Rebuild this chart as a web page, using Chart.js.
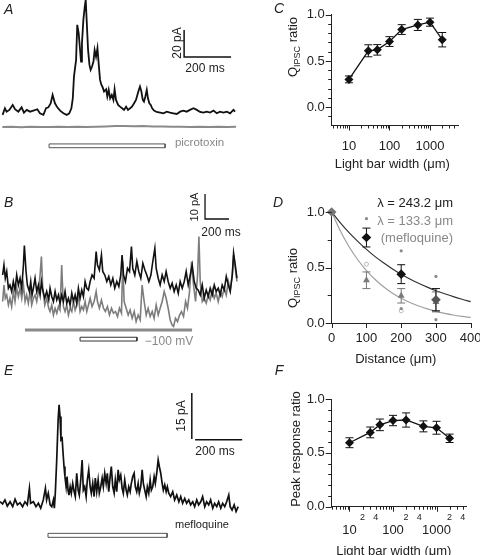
<!DOCTYPE html>
<html>
<head>
<meta charset="utf-8">
<script src="https://cdn.jsdelivr.net/npm/chart.js@4.4.1/dist/chart.umd.min.js"></script>
<style>
html, body { margin: 0; padding: 0; background: #fff; overflow: hidden; }
#fig { position: relative; width: 480px; height: 555px; overflow: hidden;
       font-family: 'Liberation Sans', Arial, sans-serif; color: #222; }
#fig canvas { position: absolute; left: 0; top: 0; }
.t { position: absolute; white-space: nowrap; font-size: 12px; line-height: 1; transform: translate(-50%, -50%); }
.r { transform: translate(-50%, -50%) rotate(-90deg); }
.lab { position: absolute; font-size: 14px; font-style: italic; line-height: 1; transform: translate(-50%, -50%); }
.ax { font-size: 13px; }
sub { font-size: 9px; vertical-align: -3px; line-height: 0; }
.leg { position: absolute; right: 27px; font-size: 13px; line-height: 1; text-align: right; white-space: nowrap; transform: translateY(-50%); }
</style>
</head>
<body>
<div id="fig">
  <canvas id="cA" width="480" height="555"></canvas>
  <canvas id="cB" width="480" height="555"></canvas>
  <canvas id="cE" width="480" height="555"></canvas>
  <canvas id="cC" width="480" height="555"></canvas>
  <canvas id="cD" width="500" height="555"></canvas>
  <canvas id="cF" width="480" height="555"></canvas>

  <div class="lab" style="left:8.7px;top:9px">A</div>
  <div class="lab" style="left:8.7px;top:201.7px">B</div>
  <div class="lab" style="left:8.7px;top:369.5px">E</div>
  <div class="lab" style="left:279px;top:7.5px">C</div>
  <div class="lab" style="left:278px;top:201.7px">D</div>
  <div class="lab" style="left:279px;top:370px">F</div>

  <div class="t r" style="left:176.7px;top:43px">20 pA</div>
  <div class="t" style="left:205px;top:67.5px">200 ms</div>
  <div class="t" style="left:199.5px;top:142.8px;color:#888;font-size:11.5px">picrotoxin</div>

  <div class="t r" style="left:193.7px;top:206.7px;font-size:11px">10 pA</div>
  <div class="t" style="left:221px;top:232px">200 ms</div>
  <div class="t" style="left:169px;top:340.5px;color:#888">−100 mV</div>

  <div class="t r" style="left:180.5px;top:416px">15 pA</div>
  <div class="t" style="left:215px;top:450.5px">200 ms</div>
  <div class="t" style="left:202px;top:523.5px;font-size:11px">mefloquine</div>

  <div class="t r ax" style="left:292px;top:47px">Q<sub>IPSC</sub> ratio</div>
  <div class="t ax" style="left:392.3px;top:163px">Light bar width (μm)</div>

  <div class="t r ax" style="left:292px;top:277.5px">Q<sub>IPSC</sub> ratio</div>
  <div class="t ax" style="left:395.8px;top:358px">Distance (μm)</div>
  <div class="leg" style="top:202px">λ = 243.2 μm</div>
  <div class="leg" style="top:220px;color:#888">λ = 133.3 μm</div>
  <div class="leg" style="top:237px;color:#888">(mefloquine)</div>

  <div class="t r ax" style="left:295px;top:449px">Peak response ratio</div>
  <div class="t ax" style="left:393.8px;top:550px">Light bar width (μm)</div>
</div>

<script>
// ---- panel A : light-evoked current, control and picrotoxin (ms, pA)
const traceATime = [11,21,28,40,54,64,78,92,102,114,128,142,159,170,185,196,206,216,224,234,244,256,270,284,295,304,310,315,324,329,335,341,345,349,355,361,365,369,375,381,386,392,398,403,409,415,420,426,432,437,443,452,457,463,469,476,483,488,494,503,511,520,528,537,545,554,562,571,579,585,591,596,602,608,613,619,625,630,636,642,648,656,667,682,696,710,724,738,753,767,781,795,809,824,838,852,866,880,895,909,923,937,951,966,980,994,1001];
const traceACurrent = [-1.2,3.7,1.2,2.5,6.2,3.0,1.2,4.4,0.5,2.5,1.2,2.0,3.0,0,-1.2,3.7,4.4,7.4,13.6,7.4,4.4,2.0,0,-1.2,0,3.7,11.1,27.2,39.5,65.5,59.3,46.9,38.3,51.9,69.2,79.0,84.0,69.2,46.9,35.8,32.1,34.6,38.3,46.9,42.0,48.2,37.1,24.7,21.0,19.3,16.1,17.8,12.4,17.3,11.1,13.6,9.9,17.8,9.9,6.2,4.9,3.7,2.5,4.9,2.5,3.7,4.9,7.4,9.9,13.6,17.3,19.8,16.1,9.9,8.6,12.4,17.3,11.1,7.4,6.2,3.7,2.0,1.0,0.5,0,1.2,0.5,0,-0.5,1.2,2.0,1.2,2.5,3.7,2.5,1.0,0.5,1.2,0.5,2.0,0,1.2,0.5,1.2,0,2.5,1.2];
const picroTime = [10,50,90,130,170,210,250,290,330,370,410,450,490,530,570,610,650,690,730,770,810,850,890,930,970,1005];
const picroCurrent = [-10.2,-10.0,-10.3,-9.9,-10.1,-10.2,-10.0,-10.1,-9.9,-10.2,-10.0,-9.8,-9.5,-9.4,-9.6,-9.5,-9.7,-9.8,-10.0,-9.9,-10.1,-10.0,-10.2,-9.9,-10.1,-10.0];
const stimA = [209, 703];          // ms
const scaleA = [784, 984, 41.7, 61.7]; // ms from, ms to, pA from, pA to

// ---- panel B : control (black) and -100 mV (gray)
const traceBTime = [22,33,44,56,70,83,97,111,125,139,153,167,181,195,203,217,228,245,256,267,278,292,306,320,334,345,356,373,389,406,417,431,445,459,473,487,500,514,528,542,556,570,584,598,612,626,639,653,667,681,695,709,723,737,751,767,784,801,812,828,845,856,873,890,906,923,940,956,973,990,1006,1017,1029,1045,1062,1079,1095,1106,1123,1140,1156,1173,1190,1207,1223,1240,1257,1273,1290,1301,1318,1334,1351,1368,1384,1401,1418,1434,1451,1468,1485,1501,1518,1535,1551,1568,1585,1601,1618,1635,1651,1668,1685,1701,1718,1735,1751,1768,1785,1801,1818,1835,1851,1868,1885,1902,1918,1935,1946,1960,1974];
const traceBCurrent = [13.3,17.3,12.0,14.7,8.0,9.3,6.7,10.7,7.3,13.3,9.3,12.0,8.0,17.3,25.1,14.7,9.3,6.7,10.7,5.3,8.0,12.0,6.7,9.3,5.3,10.7,7.3,4.0,6.7,3.3,8.0,4.7,2.7,6.7,3.3,5.3,2.0,5.3,2.7,6.7,2.0,4.0,1.3,6.0,2.7,5.3,2.0,8.0,4.0,7.3,4.7,10.7,8.0,7.3,10.7,13.3,12.0,22.7,17.3,15.3,21.3,14.7,13.3,10.7,12.7,9.3,12.0,8.0,10.7,8.7,13.3,21.3,13.3,10.7,16.0,14.7,24.7,16.0,13.3,18.7,14.7,12.0,18.0,15.3,13.3,10.7,13.3,18.7,24.0,16.0,12.0,9.3,13.3,10.7,14.7,10.7,8.0,10.0,6.7,9.3,6.0,10.7,8.0,10.7,14.7,9.3,13.3,17.3,10.7,8.0,7.3,5.3,9.3,4.0,7.3,4.7,8.0,5.3,9.3,6.7,8.0,5.3,9.3,7.3,12.7,9.3,6.7,13.3,22.0,17.3,12.0];
const hypBTime = [22,33,44,56,70,83,97,111,125,139,153,167,181,195,209,222,236,250,264,278,292,306,320,334,345,356,373,389,406,417,431,445,459,473,487,500,514,528,542,556,570,584,598,612,626,639,653,667,681,695,709,723,737,751,767,784,801,812,828,845,862,878,895,912,929,945,962,979,995,1012,1023,1034,1051,1068,1084,1101,1118,1134,1151,1168,1184,1201,1218,1234,1251,1268,1284,1301,1318,1334,1351,1368,1384,1401,1418,1434,1446,1462,1479,1496,1512,1529,1546,1562,1579,1596,1612,1629,1646,1657,1668,1685,1701,1718,1735,1751,1768,1785,1801,1818,1835,1851,1868,1885,1902,1918,1935,1946,1960,1974];
const hypBCurrent = [2.7,9.3,4.0,5.3,1.3,4.0,0.7,6.7,2.7,8.0,4.7,8.0,4.0,9.3,2.7,5.3,2.0,6.7,1.3,4.0,5.3,2.7,6.7,13.3,20.7,8.0,1.3,4.0,0,-1.3,1.3,-2.7,0,-2.0,0.7,-0.7,17.3,0.7,-1.3,1.3,-2.7,0,-1.3,2.7,-0.7,1.3,5.3,-1.3,0.7,-0.7,2.7,-1.3,1.3,4.0,0.7,2.7,6.7,2.7,0,3.3,0,-1.3,0.7,-2.7,0,-2.0,-1.3,-3.3,0,-2.0,18.7,2.7,0,-2.7,-0.7,-4.0,-1.3,-5.3,-2.7,-4.7,9.3,2.7,-2.7,0,-3.3,-1.3,-4.0,1.3,-2.7,0,2.7,6.7,4.0,0,-4.7,-6.7,-7.3,-4.0,-5.3,-2.7,-1.3,-3.3,2.7,0,6.7,18.7,9.3,2.7,13.3,28.7,10.7,2.7,4.0,2.0,5.3,3.3,7.3,4.0,6.0,2.7,6.7,4.7,8.0,5.3,10.7,7.3,13.3,21.3,16.0,10.7];
const holdB = [208, 1600, -8.7];
const stimB = [667, 1141];
const scaleB = [1708, 1908, 35.7, 45.7];

// ---- panel E : mefloquine
const traceETime = [0,11,21,31,43,54,64,74,85,96,106,116,125,130,142,153,163,173,184,193,198,205,213,220,227,231,235,241,247,251,255,259,264,268,272,276,281,285,289,293,298,303,309,315,320,326,332,337,343,349,354,360,366,371,377,383,388,394,400,405,411,417,422,428,434,439,445,451,456,462,468,473,479,485,490,496,502,507,513,519,524,530,536,541,547,553,558,564,570,575,581,587,592,598,604,609,615,621,626,632,638,643,649,655,660,666,672,677,683,689,694,700,706,711,717,725,734,742,751,760,768,776,785,793,802,810,819,827,836,844,853,861,870,878,887,895,904,912,921,929,938,946,955,963,972,978,986,995,1003,1012];
const traceECurrent = [0.5,-0.2,1.1,-0.9,0.5,-1.1,1.3,-0.5,0.2,-1.1,0.5,-0.5,4.9,0,0.5,-1.1,0,-1.6,1.1,4.9,1.1,3.3,-0.5,-1.1,1.1,-1.6,3.3,14.1,27.2,32.1,28.3,20.7,21.2,16.3,12.0,8.7,5.4,8.7,4.3,2.7,5.4,3.3,6.5,3.8,2.2,9.8,4.3,2.7,7.6,14.1,4.3,5.4,2.2,7.6,10.9,5.4,3.3,6.5,2.2,8.2,3.8,7.6,3.3,5.4,8.2,5.4,9.8,6.5,9.8,3.8,8.7,12.0,5.4,3.3,7.6,3.8,10.9,7.6,9.2,4.9,3.3,7.6,4.3,2.7,5.4,3.8,6.5,8.7,9.8,5.4,3.8,6.5,3.3,5.4,10.9,6.5,4.3,2.2,5.4,3.3,7.6,4.3,5.4,8.7,6.5,9.8,14.1,12.0,9.8,6.5,4.3,6.0,3.8,5.4,3.3,2.2,3.8,1.1,2.7,0.5,2.2,0,1.6,0,1.1,-0.5,0.5,-1.1,1.1,-0.5,0.5,2.2,-1.1,0.5,-0.5,1.1,-1.6,0,-1.1,0.5,-1.6,0,-1.1,0.5,2.7,-1.1,-2.2,-0.5,-2.7,-1.1];
const stimE = [204, 710];
const scaleE = [815, 829, 1029, 21.0, 36.0, 20.7];

// ---- panels C and F : light bar width series
const barWidths = [10, 30, 50, 100, 200, 500, 1000, 2000];
const qRatioC = [0.30, 0.61, 0.62, 0.71, 0.84, 0.89, 0.92, 0.73];
const qErrC = [0.037, 0.065, 0.057, 0.053, 0.053, 0.06, 0.044, 0.078];
const peakRatioF = [0.594, 0.69, 0.76, 0.80, 0.805, 0.746, 0.733, 0.635];
const peakErrF = [0.046, 0.05, 0.054, 0.048, 0.066, 0.051, 0.06, 0.039];
const logMajor = [10, 100, 1000];
const logMinor = [4,5,6,7,8,9,20,30,40,50,60,70,80,90,200,300,400,500,600,700,800,900,2000,3000,4000];
const logSmallLabels = [20, 40, 200, 400, 2000, 4000];

// ---- panel D : decay with distance
const distD = [0, 100, 200, 300];
const ctrlD = [1.0, 0.77, 0.44, 0.21];
const ctrlErrD = [0, 0.085, 0.085, 0.1];
const mefD = [1.0, 0.385, 0.245, 0.19];
const mefErrD = [0, 0.075, 0.065, 0.09];
const fitDist = [0,25,50,75,100,125,150,175,200,225,250,275,300,325,350,375,400];
const fitCtrl = [1.0,0.902,0.814,0.735,0.663,0.598,0.540,0.487,0.439,0.396,0.358,0.323,0.291,0.263,0.237,0.214,0.193];
const fitMef = [1.0,0.829,0.687,0.570,0.472,0.392,0.325,0.269,0.223,0.185,0.153,0.127,0.105,0.087,0.072,0.060,0.050];
const cellDist = [100, 200, 200, 300, 300];
const cellRatio = [0.94, 0.65, 0.13, 0.42, 0.03];
const openDist = [100, 200];
const openRatio = [0.53, 0.11];

Chart.defaults.font.family = "'Liberation Sans', Arial, sans-serif";
Chart.defaults.font.size = 13;
Chart.defaults.color = '#222';

const pts = (xs, ys) => xs.map((x, i) => ({ x: x, y: ys[i] }));
const rect = (x0, x1, y0, y1) => [{x:x0,y:y0},{x:x1,y:y0},{x:x1,y:y1},{x:x0,y:y1},{x:x0,y:y0}];

function tickPlugin(marks) {
  return {
    id: 'tickMarks',
    afterDraw(chart) {
      const ctx = chart.ctx;
      ctx.save();
      ctx.strokeStyle = '#222';
      ctx.lineWidth = 1;
      marks.forEach(m => {
        const s = chart.scales[m.axis];
        m.values.forEach(v => {
          const p = Math.round(s.getPixelForValue(v)) + 0.5;
          ctx.beginPath();
          if (s.isHorizontal()) {
            ctx.moveTo(p, s.top); ctx.lineTo(p, s.top + m.len);
          } else {
            ctx.moveTo(s.right, p); ctx.lineTo(s.right - m.len, p);
          }
          ctx.stroke();
        });
      });
      ctx.restore();
    }
  };
}

function errorPlugin(list) {
  return {
    id: 'errorBars',
    beforeDatasetDraw(chart, args) {
      const e = list.find(l => l.index === args.index);
      if (!e) return;
      const ys = chart.scales.y;
      const ctx = chart.ctx;
      const data = chart.data.datasets[args.index].data;
      ctx.save();
      ctx.strokeStyle = e.color;
      ctx.lineWidth = 1;
      args.meta.data.forEach((el, i) => {
        const err = e.errors[i];
        if (!err) return;
        const top = ys.getPixelForValue(data[i].y + err);
        const bot = ys.getPixelForValue(data[i].y - err);
        ctx.beginPath();
        ctx.moveTo(el.x, top); ctx.lineTo(el.x, bot);
        ctx.moveTo(el.x - 4, top); ctx.lineTo(el.x + 4, top);
        ctx.moveTo(el.x - 4, bot); ctx.lineTo(el.x + 4, bot);
        ctx.stroke();
      });
      ctx.restore();
    }
  };
}

function baseOpts(padding, scales) {
  return {
    responsive: false, animation: false, devicePixelRatio: 1,
    layout: { padding: padding },
    scales: scales,
    plugins: { legend: { display: false }, tooltip: { enabled: false } },
    elements: { point: { radius: 0 }, line: { tension: 0 } }
  };
}

function hiddenScales(xr, yr) {
  return {
    x: { type: 'linear', display: false, min: xr[0], max: xr[1] },
    y: { type: 'linear', display: false, min: yr[0], max: yr[1] }
  };
}

function trace(data, color, width) {
  return { data: data, borderColor: color, borderWidth: width, pointRadius: 0, clip: false };
}

// ---------- A
new Chart(document.getElementById('cA'), {
  type: 'line',
  data: { datasets: [
    trace(pts(traceATime, traceACurrent), '#111', 1.8),
    trace(pts(picroTime, picroCurrent), '#8a8a8a', 2),
    trace(rect(stimA[0], stimA[1], -22.7, -25.5), '#555', 1),
    trace([{x:scaleA[0],y:scaleA[3]},{x:scaleA[0],y:scaleA[2]},{x:scaleA[1],y:scaleA[2]}], '#111', 1.5)
  ]},
  options: baseOpts({ left: 0, top: 0, right: 240, bottom: 400 }, hiddenScales([0, 1022], [-30.9, 83.9]))
});

// ---------- B
new Chart(document.getElementById('cB'), {
  type: 'line',
  data: { datasets: [
    trace(pts(traceBTime, traceBCurrent), '#111', 1.6),
    trace(pts(hypBTime, hypBCurrent), '#7d7d7d', 1.6),
    trace([{x:holdB[0],y:holdB[2]},{x:holdB[1],y:holdB[2]}], '#8a8a8a', 3),
    trace(rect(stimB[0], stimB[1], -11.6, -13.1), '#333', 1),
    trace([{x:scaleB[0],y:scaleB[3]},{x:scaleB[0],y:scaleB[2]},{x:scaleB[1],y:scaleB[2]}], '#111', 1.3)
  ]},
  options: baseOpts({ left: 0, top: 180, right: 235, bottom: 205 }, hiddenScales([0, 2041], [-16.7, 51.3]))
});

// ---------- E
new Chart(document.getElementById('cE'), {
  type: 'line',
  data: { datasets: [
    trace(pts(traceETime, traceECurrent), '#111', 1.7),
    trace(rect(stimE[0], stimE[1], -9.8, -11.1), '#555', 1),
    trace([{x:scaleE[0],y:scaleE[4]},{x:scaleE[0],y:scaleE[3]}], '#111', 1.5),
    trace([{x:scaleE[1],y:scaleE[5]},{x:scaleE[2],y:scaleE[5]}], '#111', 1.5)
  ]},
  options: baseOpts({ left: 0, top: 380, right: 235, bottom: 10 }, hiddenScales([0, 1041], [-13.6, 40.2]))
});

// ---------- axis helpers for C, D, F
function yAxis(min, max, labels) {
  return {
    type: 'linear', min: min, max: max,
    afterFit: s => { s.width = 50; },
    afterBuildTicks: s => { s.ticks = labels.map(v => ({ value: v })); },
    grid: { display: false, drawTicks: false, tickLength: 0 },
    border: { display: true, color: '#222', width: 1 },
    ticks: { padding: 7, autoSkip: false, color: '#222', font: { size: 13 }, callback: v => Number(v).toFixed(1) }
  };
}
function xAxis(type, min, max, labels, height, pad, size, extra) {
  return Object.assign({
    type: type, min: min, max: max, position: 'bottom',
    afterFit: s => { s.height = height; },
    afterBuildTicks: s => { s.ticks = labels.map(v => ({ value: v })); },
    grid: { display: false, drawTicks: false, tickLength: 0 },
    border: { display: true, color: '#222', width: 1 },
    ticks: { padding: pad, autoSkip: false, maxRotation: 0, minRotation: 0, color: '#222', font: { size: size }, callback: v => String(v) }
  }, extra || {});
}

function diamondSeries(data) {
  return { data: data, borderColor: '#111', borderWidth: 1.3, pointStyle: 'rectRot', pointRadius: 4.5,
           pointBackgroundColor: '#111', pointBorderColor: '#111', pointBorderWidth: 0, clip: false };
}

// ---------- C
new Chart(document.getElementById('cC'), {
  type: 'line',
  data: { datasets: [ diamondSeries(pts(barWidths, qRatioC)) ] },
  options: baseOpts({ left: 281.7, top: 11.7, right: 22, bottom: 389.5 }, {
    x: xAxis('logarithmic', 3.75, 4900, logMajor, 40, 13.4, 13),
    y: yAxis(-0.2, 1.0, [0, 0.5, 1.0])
  }),
  plugins: [
    errorPlugin([{ index: 0, errors: qErrC, color: '#111' }]),
    tickPlugin([
      { axis: 'x', values: logMajor, len: 5 },
      { axis: 'x', values: logMinor, len: 3 },
      { axis: 'y', values: [0, 0.5, 1.0], len: 6 },
      { axis: 'y', values: [-0.1, 0.1, 0.2, 0.3, 0.4, 0.6, 0.7, 0.8, 0.9], len: 3.5 }
    ])
  ]
});

// ---------- D
new Chart(document.getElementById('cD'), {
  type: 'line',
  data: { datasets: [
    { data: pts(distD, ctrlD), showLine: false, pointStyle: 'rectRot', pointRadius: 4.8,
      pointBackgroundColor: ['#777', '#111', '#111', '#555'], pointBorderWidth: 0, clip: false },
    { data: pts(distD, mefD), showLine: false, pointStyle: 'triangle', pointRadius: 4,
      pointBackgroundColor: '#7a7a7a', pointBorderWidth: 0, clip: false },
    { data: pts(cellDist, cellRatio), showLine: false, pointStyle: 'circle', pointRadius: 1.6,
      pointBackgroundColor: '#8a8a8a', pointBorderWidth: 0, clip: false },
    { data: pts(openDist, openRatio), showLine: false, pointStyle: 'circle', pointRadius: 2,
      pointBackgroundColor: '#fff', pointBorderColor: '#aaa', pointBorderWidth: 0.8, clip: false },
    { data: pts(fitDist, fitCtrl), borderColor: '#333', borderWidth: 1.2, pointRadius: 0, cubicInterpolationMode: 'monotone', clip: false },
    { data: pts(fitDist, fitMef), borderColor: '#a0a0a0', borderWidth: 1.2, pointRadius: 0, cubicInterpolationMode: 'monotone', clip: false }
  ]},
  options: baseOpts({ left: 281.7, top: 212, right: 29.3, bottom: 202 }, {
    x: xAxis('linear', 0, 400, [0, 100, 200, 300, 400], 30, 7.2, 13),
    y: yAxis(0, 1.0, [0, 0.5, 1.0])
  }),
  plugins: [
    errorPlugin([{ index: 0, errors: ctrlErrD, color: '#111' }, { index: 1, errors: mefErrD, color: '#777' }]),
    tickPlugin([
      { axis: 'x', values: [0, 100, 200, 300, 400], len: 5 },
      { axis: 'y', values: [0, 0.5, 1.0], len: 6 },
      { axis: 'y', values: [0.25, 0.75], len: 4 }
    ])
  ]
});

// ---------- F
new Chart(document.getElementById('cF'), {
  type: 'line',
  data: { datasets: [ diamondSeries(pts(barWidths, peakRatioF)) ] },
  options: baseOpts({ left: 281.7, top: 399, right: 14, bottom: 4.3 }, {
    x: xAxis('logarithmic', 3.9, 4765, logSmallLabels, 14, 5.6, 9, { weight: 0, ticks: { padding: 5.6, autoSkip: false, maxRotation: 0, minRotation: 0, color: '#222', font: { size: 9 }, callback: v => String(v).charAt(0) } }),
    x2: xAxis('logarithmic', 3.9, 4765, logMajor, 30, 2.2, 13, { weight: 1, border: { display: false } }),
    y: yAxis(0, 1.0, [0, 0.5, 1.0])
  }),
  plugins: [
    errorPlugin([{ index: 0, errors: peakErrF, color: '#111' }]),
    tickPlugin([
      { axis: 'x', values: logMajor, len: 5 },
      { axis: 'x', values: logMinor, len: 3 },
      { axis: 'y', values: [0, 0.5, 1.0], len: 6 },
      { axis: 'y', values: [0.1, 0.2, 0.3, 0.4, 0.6, 0.7, 0.8, 0.9], len: 3.5 }
    ])
  ]
});
</script>
</body>
</html>
